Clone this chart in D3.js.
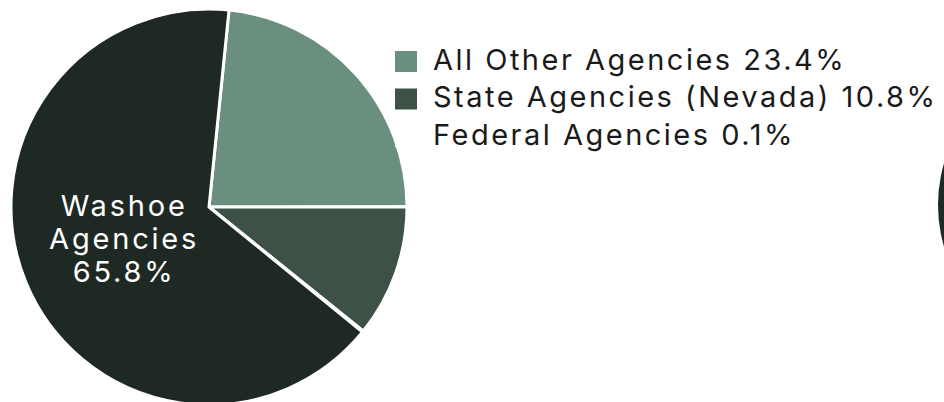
<!DOCTYPE html>
<html>
<head>
<meta charset="utf-8">
<script src="https://cdn.jsdelivr.net/npm/d3@7"></script>
<style>
  html, body { margin: 0; padding: 0; background: #ffffff; }
  svg { display: block; }
  text { font-family: Inter, "Noto Sans", sans-serif; }
</style>
</head>
<body>
<svg id="chart" width="944" height="402"></svg>
<script>
const categories = ["All Other Agencies", "State Agencies (Nevada)", "Federal Agencies", "Washoe Agencies"];
const values = [23.4, 10.8, 0.1, 65.8];
const colors = ["#6b8f7e", "#3d5146", "#ffffff", "#1f2923"];
const labelLines = ["Washoe", "Agencies", "65.8%"];
const legendItems = [0, 1, 2];

const svg = d3.select("#chart");
const cx = 209, cy = 207, r = 198;

const pie = d3.pie().sort(null).value(d => d)
  .startAngle(5.8 * Math.PI / 180)
  .endAngle(5.8 * Math.PI / 180 + 2 * Math.PI);
const arcs = pie(values);
const arc = d3.arc().innerRadius(0).outerRadius(r);
const labelArc = d3.arc().innerRadius(0).outerRadius(r * 0.95);

const g = svg.append("g").attr("transform", `translate(${cx},${cy})`);
g.selectAll("path.slice").data(arcs).join("path")
  .attr("class", "slice")
  .attr("d", arc)
  .attr("fill", (d, i) => colors[i])
  .attr("stroke", "#ffffff")
  .attr("stroke-width", 3)
  .attr("stroke-linejoin", "round");

// Washoe label at centroid
const wi = 3;
const [lx, ly] = labelArc.centroid(arcs[wi]);
const lbl = g.append("text")
  .attr("text-anchor", "middle")
  .attr("fill", "#ffffff")
  .attr("font-size", 29)
  .attr("letter-spacing", 2.8)
  .attr("y", ly - 27);
labelLines.forEach((t, k) => {
  lbl.append("tspan").attr("x", lx + 2).attr("dy", k === 0 ? 0 : 33).text(t);
});

// Legend
const leg = svg.append("g").attr("transform", "translate(395,51)");
const rows = leg.selectAll("g").data(legendItems).join("g")
  .attr("transform", (d, k) => `translate(0,${k * 37.5})`);
rows.append("rect").attr("width", 22).attr("height", 21)
  .attr("fill", d => colors[d]);
rows.append("text").attr("x", 38).attr("y", 18.5)
  .attr("font-size", 29).attr("fill", "#1a1a1a")
  .attr("letter-spacing", 2.5)
  .text(d => `${categories[d]} ${values[d].toFixed(1)}%`);

// partially visible neighbouring chart on the right edge
svg.append("circle").attr("cx", 1086).attr("cy", 205).attr("r", 148)
  .attr("fill", "#1f2923");
</script>
</body>
</html>
